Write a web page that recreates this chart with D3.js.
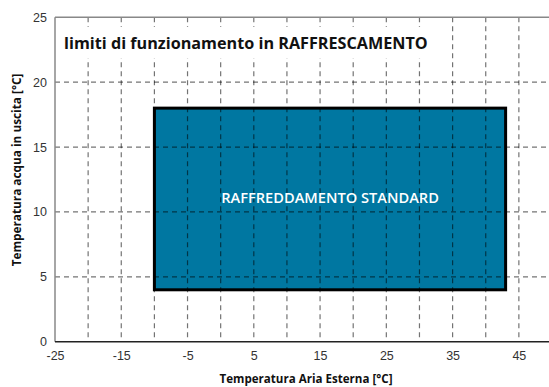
<!DOCTYPE html>
<html><head><meta charset="utf-8">
<script src="https://cdn.jsdelivr.net/npm/d3@7"></script>
<style>
html,body{margin:0;padding:0;background:#fff;}
svg{display:block;}
</style></head>
<body>
<svg id="chart" width="549" height="387"></svg>
<script>
// ---- data ----
const xDomain = [-25, 50];
const yDomain = [0, 25];
const xTickLabels = [-25, -15, -5, 5, 15, 25, 35, 45];
const yTickLabels = [0, 5, 10, 15, 20, 25];
const xGrid = [-20, -15, -10, -5, 0, 5, 10, 15, 20, 25, 30, 35, 40, 45];
const yGrid = [5, 10, 15, 20];
const regionX = [-10, 43];
const regionY = [4, 18];
const regionLabel = "RAFFREDDAMENTO STANDARD";
const title = "limiti di funzionamento in RAFFRESCAMENTO";
const xTitle = "Temperatura Aria Esterna [°C]";
const yTitle = "Temperatura acqua in uscita [°C]";

// ---- layout ----
const svg = d3.select("#chart");
const x = d3.scaleLinear().domain(xDomain).range([55, 552]);
const y = d3.scaleLinear().domain(yDomain).range([341.7, 17.3]);
const font = "'Open Sans', Lato, sans-serif";

function fit(sel, size, width) {
  sel.style("font-size", size + "px");
  const w = sel.node().getComputedTextLength();
  sel.style("font-size", (size * width / w).toFixed(2) + "px");
  return sel;
}

// region rectangle
svg.append("rect")
  .attr("x", x(regionX[0])).attr("y", y(regionY[1]))
  .attr("width", x(regionX[1]) - x(regionX[0]))
  .attr("height", y(regionY[0]) - y(regionY[1]))
  .attr("fill", "#0077a1");

// grid
const g = svg.append("g").attr("stroke", "#000").attr("stroke-opacity", 0.55)
  .attr("stroke-width", 1.2).attr("stroke-dasharray", "5,4");
g.selectAll("line.v").data(xGrid).join("line")
  .attr("x1", d => x(d)).attr("x2", d => x(d))
  .attr("y1", y(25)).attr("y2", y(0));
g.selectAll("line.h").data(yGrid).join("line")
  .attr("y1", d => y(d)).attr("y2", d => y(d))
  .attr("x1", x(-25)).attr("x2", x(50));

// region border
svg.append("rect")
  .attr("x", x(regionX[0])).attr("y", y(regionY[1]))
  .attr("width", x(regionX[1]) - x(regionX[0]))
  .attr("height", y(regionY[0]) - y(regionY[1]))
  .attr("fill", "none").attr("stroke", "#000").attr("stroke-width", 3);

const rl = svg.append("text")
  .attr("x", (x(regionX[0]) + x(regionX[1])) / 2)
  .attr("y", (y(regionY[0]) + y(regionY[1])) / 2 + 4)
  .attr("text-anchor", "middle").attr("fill", "#fff")
  .style("font-family", font).style("font-weight", "600")
  .text(regionLabel);
fit(rl, 13, 218);

// title box
svg.append("rect").attr("x", 58).attr("y", 27).attr("width", 375).attr("height", 31).attr("fill", "#fff");
const tt = svg.append("text").attr("x", 64).attr("y", 49)
  .style("font-family", font).style("font-weight", "bold")
  .attr("fill", "#111").text(title);
fit(tt, 15, 364);

// frame lines
svg.append("line").attr("x1", x(-25)).attr("x2", 549).attr("y1", y(25)).attr("y2", y(25))
  .attr("stroke", "#888").attr("stroke-width", 1.5);
svg.append("line").attr("x1", x(-25)).attr("x2", x(-25)).attr("y1", y(25)).attr("y2", y(0))
  .attr("stroke", "#888").attr("stroke-width", 1.5);

// axes
const xAxis = d3.axisBottom(x).tickValues(xTickLabels).tickSize(0).tickPadding(9).tickFormat(d => String(d));
const xa = svg.append("g").attr("transform", `translate(0,${y(0)})`).call(xAxis);
xa.select(".domain").attr("stroke", "#222").attr("stroke-width", 1.5).attr("d", `M${x(-25)},0H549`);
xa.selectAll("text").style("font-family", "'Liberation Sans', Arial, sans-serif").style("font-size", "12.5px").attr("fill", "#333");

const yAxis = d3.axisLeft(y).tickValues(yTickLabels).tickSize(0).tickPadding(8).tickFormat(d => String(d));
const ya = svg.append("g").attr("transform", `translate(${x(-25)},0)`).call(yAxis);
ya.select(".domain").remove();
ya.selectAll("text").style("font-family", "'Liberation Sans', Arial, sans-serif").style("font-size", "12.5px").attr("fill", "#333");

// axis titles
const xt = svg.append("text").attr("x", 306).attr("y", 383).attr("text-anchor", "middle")
  .style("font-family", font).style("font-weight", "bold")
  .attr("fill", "#111").text(xTitle);
fit(xt, 11.5, 173);
const yt = svg.append("text").attr("transform", "translate(21,170) rotate(-90)").attr("text-anchor", "middle")
  .style("font-family", font).style("font-weight", "bold")
  .attr("fill", "#111").text(yTitle);
fit(yt, 11.5, 193);
</script>
</body></html>
